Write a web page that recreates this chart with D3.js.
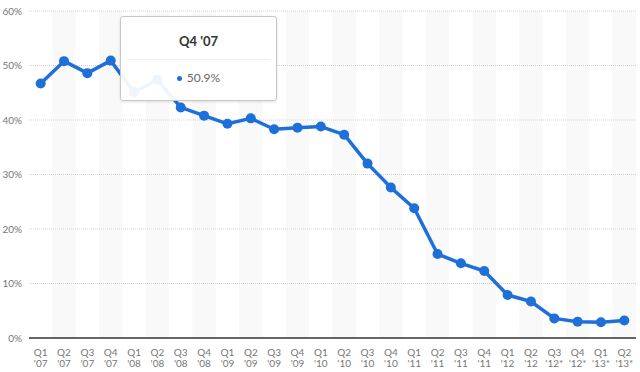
<!DOCTYPE html>
<html>
<head>
<meta charset="utf-8">
<script src="https://cdn.jsdelivr.net/npm/d3@7"></script>
<style>
body { margin: 0; background: #fff; }
#chart { position: relative; width: 640px; height: 372px; font-family: Lato, "Open Sans", sans-serif; }
.tip { position: absolute; background: rgba(255,255,255,0.93); border: 1px solid #c8c8c8; border-radius: 3px; box-shadow: 0 1px 3px rgba(0,0,0,0.12); }
</style>
</head>
<body>
<div id="chart"></div>
<script>
var quarters = ["Q1","Q2","Q3","Q4","Q1","Q2","Q3","Q4","Q1","Q2","Q3","Q4","Q1","Q2","Q3","Q4","Q1","Q2","Q3","Q4","Q1","Q2","Q3","Q4","Q1","Q2"];
var years = ["'07","'07","'07","'07","'08","'08","'08","'08","'09","'09","'09","'09","'10","'10","'10","'10","'11","'11","'11","'11","'12","'12","'12*","'12*","'13*","'13*"];
var share = [46.7,50.8,48.6,50.9,45.1,47.4,42.3,40.8,39.3,40.3,38.3,38.6,38.8,37.3,32.0,27.6,23.8,15.4,13.7,12.3,7.9,6.7,3.6,3.0,2.9,3.2];
var yTicks = [0,10,20,30,40,50,60];

var margin = {top: 11, right: 4, bottom: 34, left: 29},
    width = 640 - margin.left - margin.right,
    height = 372 - margin.top - margin.bottom;

var svg = d3.select("#chart")
.append("svg")
.attr("width", 640)
.attr("height", 372)
.append("g")
.attr("transform", "translate("+margin.left+","+margin.top+")");

var idx = d3.range(share.length);

var x = d3.scaleBand()
.domain(idx)
.range([0, width]);

var y = d3.scaleLinear()
.domain([0, 60])
.range([height, 0]);

// shaded columns
svg.append("g")
.selectAll("rect")
.data(idx.filter(function(i){ return i % 2 == 1; }))
.enter()
.append("rect")
.attr("x", function(i){ return x(i); })
.attr("y", 0)
.attr("width", x.bandwidth())
.attr("height", height)
.attr("fill", "#f9f9f9");

// grid
svg.append("g")
.selectAll("line")
.data(yTicks.filter(function(d){ return d > 0; }))
.enter()
.append("line")
.attr("x1", 0)
.attr("x2", width)
.attr("y1", function(d){ return y(d); })
.attr("y2", function(d){ return y(d); })
.attr("stroke", "#d4d4d4")
.attr("stroke-dasharray", "1,1");

// y labels
svg.append("g")
.selectAll("text")
.data(yTicks)
.enter()
.append("text")
.attr("x", -7)
.attr("y", function(d){ return y(d) + 3.5; })
.attr("text-anchor", "end")
.attr("font-size", "10px")
.attr("fill", "#777")
.text(function(d){ return d + "%"; });

// baseline
svg.append("line")
.attr("x1", 0)
.attr("x2", width)
.attr("y1", y(0))
.attr("y2", y(0))
.attr("stroke", "#333")
.attr("stroke-width", 1.5);

// x labels
var xl = svg.append("g")
.selectAll("text")
.data(idx)
.enter()
.append("text")
.attr("text-anchor", "middle")
.attr("font-size", "10px")
.attr("fill", "#777")
.attr("transform", function(i){ return "translate("+(x(i)+x.bandwidth()/2)+","+(height+18)+")"; });
xl.append("tspan").attr("x", 0).attr("y", 0).text(function(i){ return quarters[i]; });
xl.append("tspan").attr("x", 0).attr("y", 11).text(function(i){ return years[i]; });

// line
var line = d3.line()
.x(function(i){ return x(i) + x.bandwidth()/2; })
.y(function(i){ return y(share[i]); });

svg.append("path")
.datum(idx)
.attr("d", line)
.attr("fill", "none")
.attr("stroke", "#1f6fd8")
.attr("stroke-width", 3.5)
.attr("stroke-linejoin", "round");

svg.append("g")
.selectAll("circle")
.data(idx)
.enter()
.append("circle")
.attr("cx", function(i){ return x(i) + x.bandwidth()/2; })
.attr("cy", function(i){ return y(share[i]); })
.attr("r", 5)
.attr("fill", "#1f6fd8");

// tooltip for Q4 '07
var t = 3;
var tip = d3.select("#chart").append("div")
.attr("class", "tip")
.style("left", "120px")
.style("top", "16px")
.style("width", "155px")
.style("height", "83px");

tip.append("div")
.style("position", "absolute").style("left", "0").style("width", "155px")
.style("top", "16px").style("text-align", "center")
.style("font-size", "13px").style("font-weight", "bold").style("color", "#333")
.text(quarters[t] + " " + years[t]);

tip.append("div")
.style("position", "absolute").style("left", "6px").style("width", "143px")
.style("top", "42px").style("border-top", "1px solid #eee");

var row = tip.append("div")
.style("position", "absolute").style("left", "0").style("width", "155px")
.style("top", "53px").style("text-align", "center")
.style("font-size", "12px").style("color", "#666");
row.append("span")
.style("display", "inline-block").style("width", "5px").style("height", "5px")
.style("border-radius", "50%").style("background", "#1f6fd8")
.style("margin-right", "5px").style("vertical-align", "middle");
row.append("span").text(share[t].toFixed(1) + "%");
</script>
</body>
</html>
